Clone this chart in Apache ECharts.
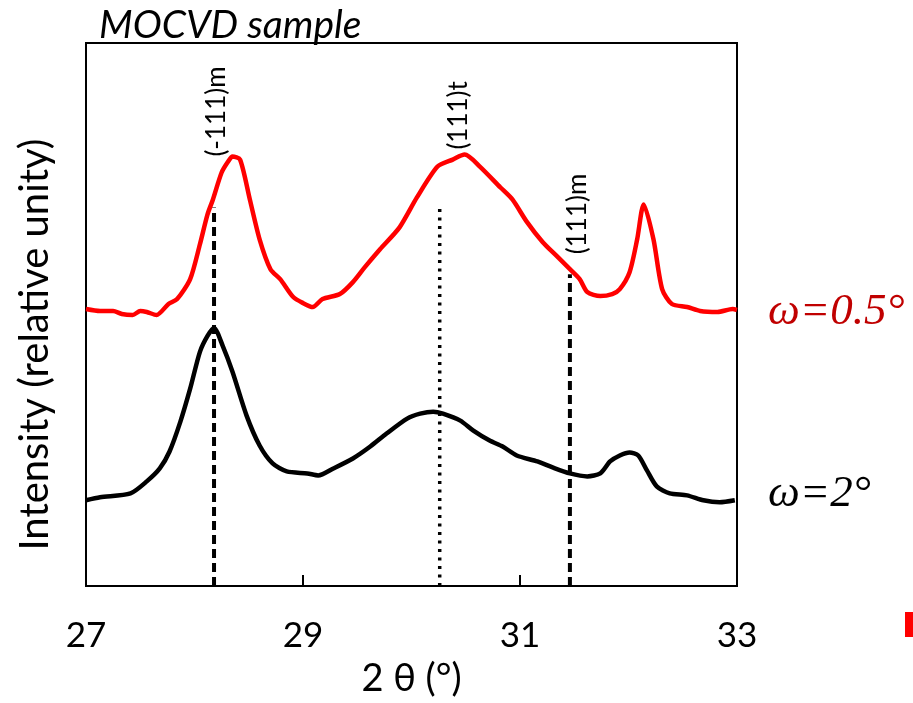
<!DOCTYPE html>
<html><head><meta charset="utf-8">
<script src="https://cdn.jsdelivr.net/npm/echarts@6/dist/echarts.min.js"></script>
<style>html,body{margin:0;padding:0;background:#fff}#c{width:913px;height:703px}</style>
</head><body><div id="c"></div>
<script>
// 2θ values and relative intensities
const redX = [27.00,27.13,27.25,27.33,27.43,27.50,27.56,27.65,27.76,27.84,27.96,28.05,28.12,28.17,28.25,28.31,28.35,28.42,28.51,28.60,28.70,28.79,28.91,29.00,29.09,29.18,29.34,29.46,29.57,29.71,29.89,30.05,30.24,30.38,30.49,30.63,30.82,30.93,31.06,31.21,31.34,31.46,31.55,31.62,31.74,31.85,31.92,32.01,32.08,32.14,32.23,32.31,32.40,32.54,32.66,32.82,32.96,33.00];
const redY = [278,276,276,273,272,276,275,272,283,288,308,343,373,388,415,426,431,428,388,348,318,308,290,284,280,288,293,305,320,338,360,390,421,428,433,421,400,388,366,345,331,318,308,295,291,293,298,315,348,383,348,298,283,280,276,275,278,277];
const blackX = [27.00,27.13,27.41,27.56,27.68,27.77,27.87,27.96,28.05,28.12,28.18,28.26,28.35,28.48,28.60,28.72,28.85,29.04,29.14,29.28,29.46,29.62,29.77,29.96,30.08,30.20,30.29,30.45,30.57,30.72,30.84,30.97,31.16,31.30,31.46,31.62,31.74,31.83,31.92,32.01,32.09,32.17,32.26,32.38,32.54,32.69,32.84,32.98];
const blackY = [86,89,93,105,118,135,165,198,235,251,259,241,215,171,141,123,115,113,111,118,128,140,153,168,173,175,173,166,156,146,140,131,125,119,113,110,113,125,131,134,131,116,100,93,91,86,84,86];
const peakNames = ['(-111)m','(111)t','(111)m'];
const peakPos = [28.18, 30.26, 31.46];
const peakTop = [380, 381, 313];
const peakLabelX = [28.20, 30.43, 31.53];
const peakLabelY = [431, 438, 333];
const xTicks = [27, 29, 31, 33];

const zip = (a,b)=>a.map((v,i)=>[v,b[i]]);
const lineTypes = [[9,5],[3,5.5],[9,5]];
const series = [
  {type:'line', data:zip(redX,redY), showSymbol:false, smooth:0.25, lineStyle:{color:'#ff0000', width:4.5}, z:3},
  {type:'line', data:zip(blackX,blackY), showSymbol:false, smooth:0.25, lineStyle:{color:'#000', width:4.5}, z:3}
];
peakPos.forEach((p,i)=>{
  series.push({type:'line', data:[[p,0],[p,peakTop[i]]], showSymbol:false,
    lineStyle:{color:'#000', width: i===1?3.5:4, type: lineTypes[i]}, z:2});
});
series.push({type:'scatter', symbolSize:0, itemStyle:{opacity:1}, data:peakLabelX.map((x,i)=>({value:[x,peakLabelY[i]], name:peakNames[i]})),
  label:{show:true, formatter:p=>p.name, rotate:90, position:'inside', align:'left', verticalAlign:'middle',
    fontFamily:'Lato', fontSize:26, color:'#000', opacity:1}});

const chart = echarts.init(document.getElementById('c'));
chart.setOption({
  animation:false,
  grid:{left:86, right:176, top:43, bottom:115, show:true, borderColor:'#000', borderWidth:2},
  title:{text:'MOCVD sample', left:94, top:1, textStyle:{fontFamily:'Lato', fontStyle:'italic', fontWeight:'normal', fontSize:39, color:'#000'}},
  xAxis:{type:'value', min:27, max:33, interval:2, name:'2 θ (°)', nameLocation:'middle', nameGap:74,
    nameTextStyle:{fontFamily:'Lato', fontSize:38, color:'#000'},
    axisLine:{lineStyle:{color:'#000', width:2}}, axisTick:{inside:true, length:11, lineStyle:{color:'#000', width:2}},
    axisLabel:{margin:32, fontFamily:'Lato', fontSize:35, color:'#000', formatter:v=>xTicks.includes(v)?String(v):''},
    splitLine:{show:false}},
  yAxis:{type:'value', min:0, max:545, name:'Intensity (relative unity)', nameLocation:'middle', nameGap:31,
    nameTextStyle:{fontFamily:'Lato', fontSize:40, color:'#000', padding:[0,60,0,0]},
    axisLine:{lineStyle:{color:'#000', width:2}}, axisTick:{show:false}, axisLabel:{show:false}, splitLine:{show:false}},
  graphic:[
    {type:'text', left:768, top:290, style:{text:'ω=0.5°', font:'italic 45px "Liberation Serif"', fill:'#C00000'}},
    {type:'text', left:768, top:472, style:{text:'ω=2°', font:'italic 45px "Liberation Serif"', fill:'#000'}},
    {type:'rect', shape:{x:905, y:612, width:8, height:25}, style:{fill:'#ff0000'}}
  ],
  series:series
});
</script></body></html>
